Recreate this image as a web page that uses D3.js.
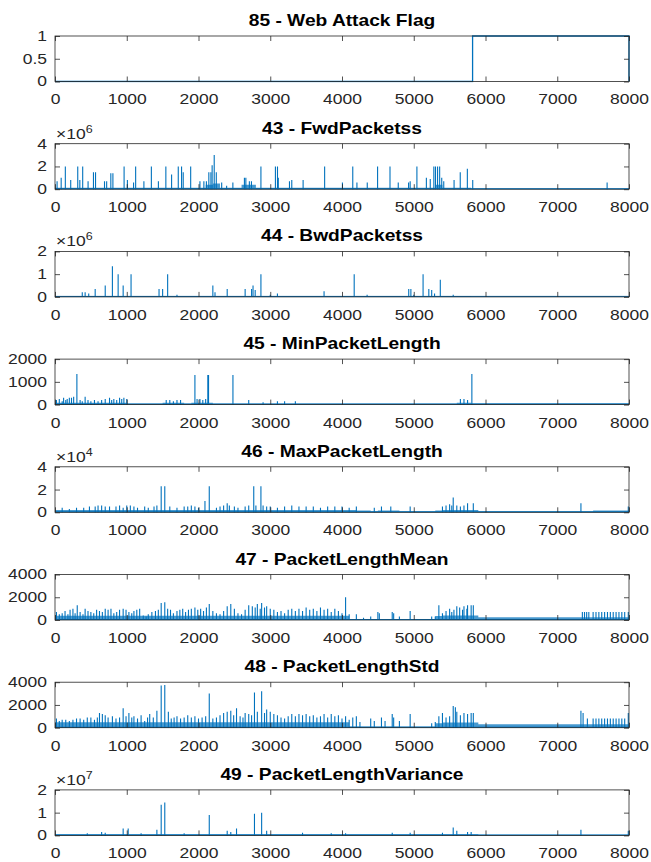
<!DOCTYPE html>
<html>
<head>
<meta charset="utf-8">
<script src="https://cdn.jsdelivr.net/npm/d3@7"></script>
<style>
  html, body { margin: 0; padding: 0; background: #fff; }
  svg { display: block; }
</style>
</head>
<body>
<svg id="fig" width="651" height="862"></svg>
<script>
// Data (x = sample index 0..8000)

const X_TICKS = [0, 1000, 2000, 3000, 4000, 5000, 6000, 7000, 8000];

// 85 - Web Attack Flag : step from 0 to 1
const flagX = [0, 5820, 5820, 8000, 8000];
const flagY = [0, 0, 1, 1, 0];

// dense low-level texture, one value per 100-sample bin (80 bins)
const fwdFloor = [
  0.12,0.12,0.12,0.12,0.12,0.12,0.12,0.12,0.12,0.12,
  0.12,0.12,0.12,0.12,0.12,0.12,0.12,0.12,0.12,0.12,
  0.12,0.4,0.5,0.12,0.12,0.12,0.4,0.4,0.12,0.12,
  0.12,0.12,0.12,0.12,0.12,0.12,0.12,0.12,0.12,0.12,
  0.12,0.12,0.12,0.12,0.12,0.12,0.12,0.12,0.12,0.12,
  0.12,0.12,0.12,0.4,0.12,0.12,0.12,0.12,0.03,0.03,
  0.03,0.03,0.03,0.03,0.03,0.03,0.03,0.03,0.03,0.03,
  0.03,0.03,0.03,0.03,0.03,0.03,0.03,0.03,0.03,0.03
];
// spikes: [sample, value]  (x10^6)
const fwdPeaks = [
  [29,0.7],[86,1.0],[144,2.0],[219,0.8],[317,2.0],[346,0.8],[386,2.0],[461,0.7],[536,1.5],[565,1.5],
  [690,0.7],[720,0.7],[778,1.4],[807,1.4],[963,2.0],[1009,0.8],[1095,0.6],[1124,2.0],[1239,0.7],[1343,2.0],
  [1441,0.7],[1545,2.0],[1625,1.3],[1718,2.0],[1764,2.0],[1787,1.5],[1891,2.0],[2020,0.7],[2075,0.7],[2110,0.7],
  [2144,1.5],[2173,1.5],[2190,2.1],[2219,3.0],[2248,1.5],[2323,0.6],[2392,0.3],[2479,0.6],[2640,1.0],[2660,1.0],
  [2709,0.7],[2738,0.7],[2870,2.0],[3072,2.0],[3101,2.0],[3112,1.0],[3268,0.7],[3300,0.8],[3458,0.8],[3758,2.0],
  [4006,0.6],[4150,2.0],[4208,0.6],[4352,0.6],[4496,2.0],[4669,2.0],[4784,0.6],[4928,0.6],[4950,0.7],[5044,2.0],
  [5176,1.0],[5230,0.9],[5280,2.0],[5303,2.0],[5332,2.0],[5361,2.0],[5390,1.0],[5418,0.7],[5562,0.8],[5648,1.5],
  [5747,1.8],[5822,0.8],[7695,0.6]
];

const bwdFloor = [
  0.04,0.04,0.04,0.04,0.04,0.04,0.04,0.04,0.04,0.04,
  0.04,0.04,0.04,0.04,0.04,0.04,0.04,0.04,0.04,0.04,
  0.04,0.04,0.04,0.04,0.04,0.04,0.04,0.04,0.04,0.04,
  0.04,0.04,0.04,0.04,0.04,0.04,0.04,0.04,0.04,0.04,
  0.04,0.04,0.04,0.04,0.04,0.04,0.04,0.04,0.04,0.04,
  0.04,0.04,0.04,0.04,0.04,0.04,0.04,0.04,0.02,0.02,
  0.02,0.02,0.02,0.02,0.02,0.02,0.02,0.02,0.02,0.02,
  0.02,0.02,0.02,0.02,0.02,0.02,0.02,0.02,0.02,0.02
];
const bwdPeaks = [
  [380,0.2],[420,0.2],[470,0.15],[560,0.35],[700,0.5],[800,1.35],[880,1.0],[950,0.5],[1060,1.0],[1450,0.35],
  [1500,0.35],[1570,1.0],[1700,0.1],[2200,0.5],[2230,0.2],[2400,0.35],[2650,0.35],[2740,0.35],[2760,0.5],[2790,0.3],
  [2870,1.0],[3000,0.1],[3100,0.15],[3750,0.25],[4170,1.0],[4350,0.1],[4930,0.35],[4960,0.35],[5000,0.1],[5130,1.0],
  [5210,0.35],[5250,0.3],[5290,0.15],[5370,0.75],[5550,0.1]
];

const minFloor = [
  80,80,80,80,80,80,80,80,80,80,
  50,50,50,50,50,80,80,80,50,80,
  80,80,50,50,50,50,50,50,50,50,
  50,50,50,50,50,50,50,50,50,50,
  50,50,50,50,50,50,50,50,50,50,
  50,50,50,50,50,50,80,80,60,60,
  60,60,60,60,60,60,60,60,60,60,
  60,60,60,60,60,60,60,60,60,60
];
const minPeaks = [
  [20,200],[60,250],[100,150],[120,300],[150,200],[170,250],[200,300],[230,300],[260,350],[305,1350],
  [350,200],[380,150],[420,350],[460,200],[500,150],[550,200],[600,150],[650,200],[700,250],[760,300],
  [790,200],[820,250],[860,200],[900,300],[930,250],[960,300],[1000,250],[1550,200],[1600,200],[1650,150],
  [1700,200],[1750,200],[1950,1300],[1980,250],[2020,250],[2060,200],[2100,250],[2130,1300],[2140,1300],[2480,1300],
  [2700,200],[2900,100],[3100,150],[3200,150],[3350,150],[5650,250],[5700,250],[5750,200],[5810,1350]
];

const maxFloor = [
  0.2,0.2,0.2,0.2,0.2,0.2,0.2,0.2,0.2,0.2,
  0.2,0.2,0.2,0.2,0.2,0.2,0.2,0.2,0.2,0.2,
  0.2,0.2,0.2,0.2,0.2,0.2,0.2,0.2,0.2,0.2,
  0.2,0.2,0.2,0.2,0.2,0.2,0.2,0.2,0.2,0.2,
  0.2,0.2,0.15,0.15,0.1,0.15,0.15,0.15,0.1,0.1,
  0.1,0.1,0.1,0.15,0.2,0.2,0.2,0.2,0.2,0.1,
  0.1,0.1,0.1,0.1,0.1,0.1,0.1,0.1,0.1,0.1,
  0.1,0.1,0.1,0.1,0.1,0.15,0.15,0.15,0.15,0.15
];
const maxPeaks = [
  [100,0.4],[200,0.3],[300,0.4],[400,0.4],[480,0.5],[560,0.5],[600,0.6],[650,0.6],[700,0.5],[760,0.5],
  [850,0.5],[900,0.6],[950,0.4],[1000,0.6],[1050,0.6],[1100,0.5],[1150,0.4],[1250,0.5],[1300,0.4],[1380,0.5],
  [1420,0.6],[1480,2.3],[1530,2.3],[1600,0.5],[1700,0.4],[1800,0.5],[1850,0.5],[1900,0.6],[1950,0.5],[2000,0.4],
  [2090,1.0],[2150,2.3],[2250,0.4],[2300,0.5],[2350,0.6],[2400,0.8],[2430,0.6],[2500,0.5],[2550,0.4],[2650,0.5],
  [2700,0.6],[2770,2.3],[2800,0.6],[2870,2.3],[2900,0.6],[2950,0.5],[3000,0.5],[3100,0.4],[3200,0.5],[3300,0.6],
  [3400,0.5],[3500,0.5],[3600,0.5],[3700,0.4],[3800,0.5],[3900,0.5],[4000,0.5],[4100,0.4],[4200,0.5],[4450,0.4],
  [4550,0.5],[4680,0.5],[4950,0.5],[5400,0.5],[5450,0.6],[5500,0.7],[5530,0.6],[5550,1.3],[5600,0.6],[5650,0.5],
  [5700,0.6],[5750,0.8],[5830,0.8],[7330,0.8],[7990,0.5]
];

const meanFloor = [
  380,380,380,380,380,380,380,380,380,380,
  380,380,380,380,380,380,380,380,380,380,
  380,380,380,380,380,380,380,380,380,380,
  380,380,380,380,380,380,380,380,380,380,
  380,60,60,60,60,60,60,60,60,60,
  60,60,60,350,400,400,400,400,400,250,
  250,250,250,250,250,250,250,250,250,250,
  250,250,250,250,250,250,250,250,250,250
];
const meanPeaks = [
  [20,700],[60,500],[100,600],[140,800],[180,500],[210,900],[250,1000],[280,600],[310,1300],[350,700],
  [390,500],[420,1000],[460,800],[500,700],[540,600],[580,900],[620,800],[660,700],[700,1000],[740,900],
  [780,1000],[820,600],[860,700],[900,900],[950,1000],[990,900],[1030,700],[1070,600],[1100,800],[1140,900],
  [1180,1000],[1230,400],[1270,300],[1300,500],[1350,700],[1400,800],[1440,900],[1480,1500],[1530,1550],[1570,1000],
  [1610,900],[1650,600],[1700,800],[1740,900],[1780,1000],[1820,700],[1860,900],[1900,1000],[1950,1100],[1990,900],
  [2030,1000],[2070,800],[2110,1100],[2150,1400],[2200,800],[2250,600],[2300,500],[2350,800],[2400,1200],[2450,1400],
  [2500,1000],[2550,600],[2600,500],[2650,900],[2700,1300],[2750,1200],[2790,1100],[2820,1400],[2860,1000],[2880,1500],
  [2920,1100],[2950,1200],[3000,1000],[3050,900],[3100,700],[3150,800],[3200,600],[3250,900],[3300,1000],[3350,800],
  [3400,1000],[3450,800],[3500,1100],[3550,900],[3600,1000],[3650,800],[3700,1100],[3750,900],[3800,1000],[3850,700],
  [3900,1000],[3950,800],[4000,600],[4050,2000],[4100,500],[4200,500],[4300,200],[4400,300],[4500,700],[4520,600],
  [4700,700],[4720,600],[4800,300],[4950,800],[5250,300],[5300,300],[5350,1300],[5400,600],[5450,800],[5500,1000],
  [5530,700],[5560,900],[5600,1200],[5640,1100],[5680,900],[5700,1200],[5740,1000],[5750,1300],[5800,1300],[5830,1300],
  [7350,700],[7380,700],[7410,700],[7440,700],[7500,700],[7540,700],[7580,700],[7620,700],[7660,700],[7700,700],
  [7740,700],[7780,700],[7820,700],[7860,700],[7900,700],[7940,700],[7990,700]
];

const stdFloor = [
  480,480,480,480,480,480,480,480,480,480,
  480,480,480,480,480,480,480,480,480,480,
  480,480,480,480,480,480,480,480,480,480,
  480,480,480,480,480,480,480,480,480,480,
  480,100,100,100,100,100,100,100,100,100,
  100,100,100,400,450,450,450,450,450,300,
  300,300,300,300,300,300,300,300,300,300,
  300,300,300,300,300,300,300,300,300,300
];
const stdPeaks = [
  [20,800],[60,600],[100,700],[150,700],[200,600],[250,700],[300,800],[350,800],[400,700],[450,900],
  [500,900],[550,700],[590,900],[620,1300],[660,1200],[700,1100],[740,900],[800,1000],[850,800],[900,900],
  [950,1700],[990,1000],[1030,1300],[1070,900],[1100,1000],[1150,800],[1200,1100],[1250,600],[1290,900],[1320,1200],
  [1370,900],[1420,1500],[1480,3700],[1530,3750],[1580,1400],[1620,800],[1660,900],[1700,1000],[1750,800],[1800,900],
  [1850,1100],[1900,900],[1950,1000],[2000,800],[2050,900],[2100,1000],[2150,3000],[2200,800],[2250,900],[2300,1100],
  [2350,1300],[2400,1400],[2450,1500],[2490,1100],[2530,1700],[2580,1000],[2620,900],[2650,1300],[2700,1200],[2740,1100],
  [2780,3100],[2820,1400],[2880,3200],[2920,1300],[2950,1600],[3000,1400],[3050,1200],[3100,1100],[3150,900],[3200,800],
  [3250,1000],[3300,1200],[3350,1000],[3400,1200],[3450,1100],[3500,1200],[3550,1000],[3600,1100],[3650,900],[3700,1000],
  [3750,1200],[3800,900],[3850,1200],[3900,1000],[3950,1100],[4000,800],[4050,1000],[4100,700],[4150,900],[4200,1000],
  [4250,500],[4400,800],[4450,600],[4550,900],[4600,600],[4700,1200],[4720,900],[4800,600],[4950,1200],[5250,400],
  [5300,500],[5350,1000],[5400,1300],[5450,900],[5500,1000],[5550,1900],[5580,1800],[5600,1400],[5650,1100],[5700,1300],
  [5750,1200],[5800,1300],[5830,1300],[7330,1500],[7360,1300],[7420,800],[7500,800],[7540,800],[7580,800],[7620,800],
  [7660,800],[7700,800],[7740,800],[7780,800],[7820,800],[7860,800],[7900,800],[7940,800],[7990,1300]
];

const varFloor = [
  0.05,0.05,0.05,0.05,0.05,0.05,0.05,0.05,0.05,0.05,
  0.05,0.05,0.05,0.05,0.05,0.05,0.05,0.05,0.05,0.05,
  0.05,0.05,0.05,0.05,0.05,0.05,0.05,0.05,0.05,0.05,
  0.05,0.05,0.05,0.05,0.05,0.05,0.05,0.05,0.05,0.05,
  0.05,0.05,0.05,0.05,0.05,0.05,0.05,0.05,0.05,0.05,
  0.05,0.05,0.05,0.05,0.05,0.05,0.05,0.05,0.05,0.02,
  0.02,0.02,0.02,0.02,0.02,0.02,0.02,0.02,0.02,0.02,
  0.02,0.02,0.02,0.02,0.02,0.02,0.02,0.02,0.02,0.02
];
const varPeaks = [
  [450,0.1],[650,0.15],[700,0.12],[950,0.3],[1020,0.3],[1200,0.1],[1420,0.25],[1480,1.35],[1530,1.45],[1800,0.1],
  [2150,0.9],[2400,0.2],[2450,0.15],[2530,0.3],[2780,0.95],[2880,1.0],[2950,0.2],[3450,0.12],[3850,0.1],[4050,0.1],
  [4700,0.12],[4950,0.12],[5400,0.12],[5550,0.35],[5600,0.2],[5750,0.15],[5800,0.15],[7330,0.25],[7990,0.2]
];

// Panels
const panels = [
  { title: "85 - Web Attack Flag",       yMax: 1,    yTicks: [0, 0.5, 1],        exp: null, stepX: flagX, stepY: flagY },
  { title: "43 - FwdPacketss",           yMax: 4,    yTicks: [0, 2, 4],          exp: 6,    floor: fwdFloor,  peaks: fwdPeaks },
  { title: "44 - BwdPacketss",           yMax: 2,    yTicks: [0, 1, 2],          exp: 6,    floor: bwdFloor,  peaks: bwdPeaks },
  { title: "45 - MinPacketLength",       yMax: 2000, yTicks: [0, 1000, 2000],    exp: null, floor: minFloor,  peaks: minPeaks },
  { title: "46 - MaxPacketLength",       yMax: 4,    yTicks: [0, 2, 4],          exp: 4,    floor: maxFloor,  peaks: maxPeaks },
  { title: "47 - PacketLengthMean",      yMax: 4000, yTicks: [0, 2000, 4000],    exp: null, floor: meanFloor, peaks: meanPeaks },
  { title: "48 - PacketLengthStd",       yMax: 4000, yTicks: [0, 2000, 4000],    exp: null, floor: stdFloor,  peaks: stdPeaks },
  { title: "49 - PacketLengthVariance",  yMax: 2,    yTicks: [0, 1, 2],          exp: 7,    floor: varFloor,  peaks: varPeaks }
];

// Layout
const AX_LEFT = 55, AX_RIGHT = 629;
const TOP0 = 36, STEP = 107.7, AX_H = 45.5;
const TICK = 5;
const BLUE = "#0072BD", INK = "#262626";
const FONT = "'Liberation Sans', Arial, Helvetica, sans-serif";
const SX = 1.25;   // the figure's text is slightly wide

const svg = d3.select("#fig");
const x = d3.scaleLinear().domain([0, 8000]).range([AX_LEFT, AX_RIGHT]);

function wideText(sel, tx, ty, sx) {
  return sel.attr("transform", `translate(${tx},${ty}) scale(${sx},1)`);
}

panels.forEach((p, i) => {
  const top = TOP0 + i * STEP, bottom = top + AX_H;
  const y = d3.scaleLinear().domain([0, p.yMax]).range([bottom, top]);
  const g = svg.append("g");

  const clipId = "clip" + i;
  svg.append("clipPath").attr("id", clipId)
    .append("rect").attr("x", AX_LEFT).attr("y", top - 1)
    .attr("width", AX_RIGHT - AX_LEFT + 1).attr("height", AX_H + 2);
  const plot = g.append("g").attr("clip-path", `url(#${clipId})`);

  if (p.stepX) {
    plot.append("path")
      .datum(d3.zip(p.stepX, p.stepY))
      .attr("d", d3.line().x(d => x(d[0])).y(d => y(d[1])))
      .attr("fill", "none").attr("stroke", BLUE).attr("stroke-width", 1.3);
  } else {
    const pts = p.floor.map((v, k) => [k * 100, v]);
    pts.push([8000, p.floor[p.floor.length - 1]]);
    plot.append("path")
      .datum(pts)
      .attr("d", d3.area().x(d => x(d[0])).y0(y(0)).y1(d => y(d[1])).curve(d3.curveStepAfter))
      .attr("fill", BLUE).attr("fill-opacity", 0.72);
    plot.append("line")
      .attr("x1", x(0)).attr("x2", x(8000)).attr("y1", y(0) - 0.5).attr("y2", y(0) - 0.5)
      .attr("stroke", BLUE).attr("stroke-width", 1);
    plot.selectAll("line.pk").data(p.peaks).join("line")
      .attr("class", "pk")
      .attr("x1", d => x(d[0])).attr("x2", d => x(d[0]))
      .attr("y1", y(0)).attr("y2", d => y(d[1]))
      .attr("stroke", BLUE).attr("stroke-width", 1.1);
  }

  // box
  g.append("rect")
    .attr("x", AX_LEFT).attr("y", top)
    .attr("width", AX_RIGHT - AX_LEFT).attr("height", AX_H)
    .attr("fill", "none").attr("stroke", INK).attr("stroke-width", 0.8);

  // x axis (bottom) with mirrored ticks on top
  const xb = g.append("g").attr("transform", `translate(0,${bottom})`)
    .call(d3.axisBottom(x).tickValues(X_TICKS).tickFormat(d3.format("d")).tickSize(-TICK).tickPadding(13));
  const xt = g.append("g").attr("transform", `translate(0,${top})`)
    .call(d3.axisTop(x).tickValues(X_TICKS).tickSize(-TICK).tickFormat(""));
  // y axis (left) with mirrored ticks on right
  const yl = g.append("g").attr("transform", `translate(${AX_LEFT},0)`)
    .call(d3.axisLeft(y).tickValues(p.yTicks).tickFormat(d3.format("")).tickSize(-TICK).tickPadding(8));
  const yr = g.append("g").attr("transform", `translate(${AX_RIGHT},0)`)
    .call(d3.axisRight(y).tickValues(p.yTicks).tickSize(-TICK).tickFormat(""));

  [xb, xt, yl, yr].forEach(a => {
    a.select(".domain").remove();
    a.selectAll(".tick line").attr("stroke", INK).attr("stroke-width", 0.8);
    a.selectAll("text")
      .attr("fill", INK).attr("font-family", FONT).attr("font-size", "14px");
  });
  xb.selectAll("text").attr("dy", "0.71em").attr("transform", `scale(${SX},1)`);
  yl.selectAll("text").attr("transform", `translate(-8,0) scale(${SX},1)`).attr("x", 0);

  // exponent label
  if (p.exp !== null) {
    const t = wideText(g.append("text"), AX_LEFT + 1, top - 5, SX)
      .attr("fill", INK).attr("font-family", FONT).attr("font-size", "14px");
    t.append("tspan").text("\u00d710");
    t.append("tspan").attr("dy", -6).attr("font-size", "10px").text(p.exp);
  }

  // title
  wideText(g.append("text"), (AX_LEFT + AX_RIGHT) / 2, top - 10, 1.2)
    .attr("text-anchor", "middle")
    .attr("fill", "#000").attr("font-family", FONT)
    .attr("font-size", "16px").attr("font-weight", "bold")
    .text(p.title);
});
</script>
</body>
</html>
